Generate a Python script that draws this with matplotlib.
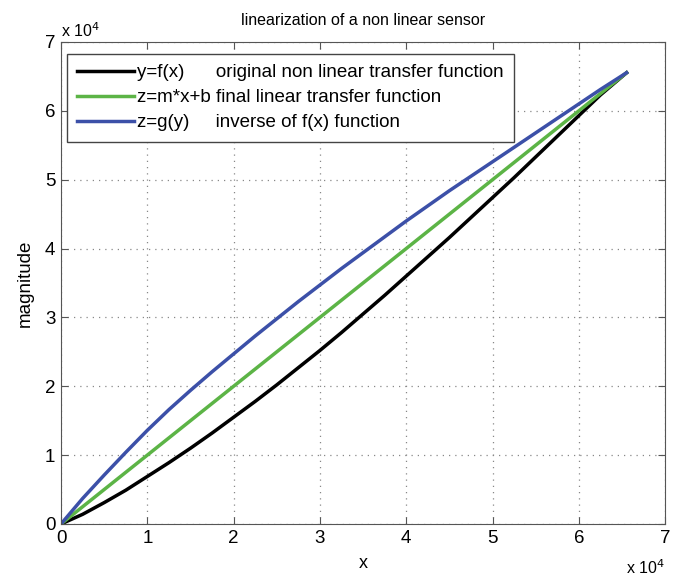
import matplotlib.pyplot as plt
from matplotlib.ticker import FuncFormatter

plt.rcParams['font.family'] = ['Liberation Sans', 'DejaVu Sans']

# valores (unidades crudas, 0..65535)
x_pts = [0, 2500, 5000, 7500, 10000, 12500, 15000, 17500, 20000, 22500, 25000, 27500, 30000,
         32500, 35000, 37500, 40000, 42500, 45000, 47500, 50000, 52500, 55000, 57500, 60000,
         62500, 65535]
f_pts = [0, 1400, 3100, 4900, 6900, 8900, 11000, 13200, 15500, 17800, 20200, 22700, 25200,
         27800, 30500, 33200, 36000, 38800, 41600, 44500, 47400, 50300, 53300, 56300, 59300,
         62300, 65535]
g_pts = [0, 3700, 7100, 10400, 13600, 16600, 19400, 22100, 24700, 27300, 29800, 32300, 34700,
         37100, 39400, 41700, 44000, 46200, 48400, 50500, 52600, 54700, 56800, 58900, 61000,
         63100, 65535]
z_x = [0, 65535]
z_pts = [0, 65535]

etiquetas = ['y=f(x)      original non linear transfer function',
             'z=m*x+b final linear transfer function',
             'z=g(y)     inverse of f(x) function']

fig = plt.figure(figsize=(6.78, 5.8), dpi=100)
ax = fig.add_axes([0.09, 0.0966, 0.891, 0.831])

ax.plot(x_pts, f_pts, color='black', lw=2.5, label=etiquetas[0])
ax.plot(z_x, z_pts, color='#5cb446', lw=2.5, label=etiquetas[1])
ax.plot(x_pts, g_pts, color='#3c50a8', lw=2.5, label=etiquetas[2])

ax.set_xlim(0, 70000)
ax.set_ylim(0, 70000)
ax.set_xticks(range(0, 70001, 10000))
ax.set_yticks(range(0, 70001, 10000))
fmt = FuncFormatter(lambda v, p: '%d' % round(v / 1e4))
ax.xaxis.set_major_formatter(fmt)
ax.yaxis.set_major_formatter(fmt)
ax.tick_params(direction='in', top=True, right=True, labelsize=13.5, length=5, color='#555555', pad=4)
for s in ax.spines.values():
    s.set_color('#555555')
ax.grid(True, linestyle=(0, (1, 4)), color='#888888', lw=0.9)

ax.set_title('linearization of a non linear sensor', fontsize=11.5, pad=12)
ax.set_xlabel('x', fontsize=13, labelpad=6)
ax.set_ylabel('magnitude', fontsize=13.5, labelpad=8)
ax.text(0.0, 1.005, 'x 10$^4$', transform=ax.transAxes, fontsize=11.5, ha='left', va='bottom')
ax.text(1.0, -0.072, 'x 10$^4$', transform=ax.transAxes, fontsize=11.5, ha='right', va='top')

leg = ax.legend(loc='upper left', bbox_to_anchor=(0.01, 0.975), fontsize=13.5,
                handlelength=3.0, handletextpad=0.2, borderaxespad=0, fancybox=False,
                framealpha=1, edgecolor='#444444', labelspacing=0.42, borderpad=0.55)
leg.get_frame().set_linewidth(1.0)

plt.savefig('out.png', dpi=100)
